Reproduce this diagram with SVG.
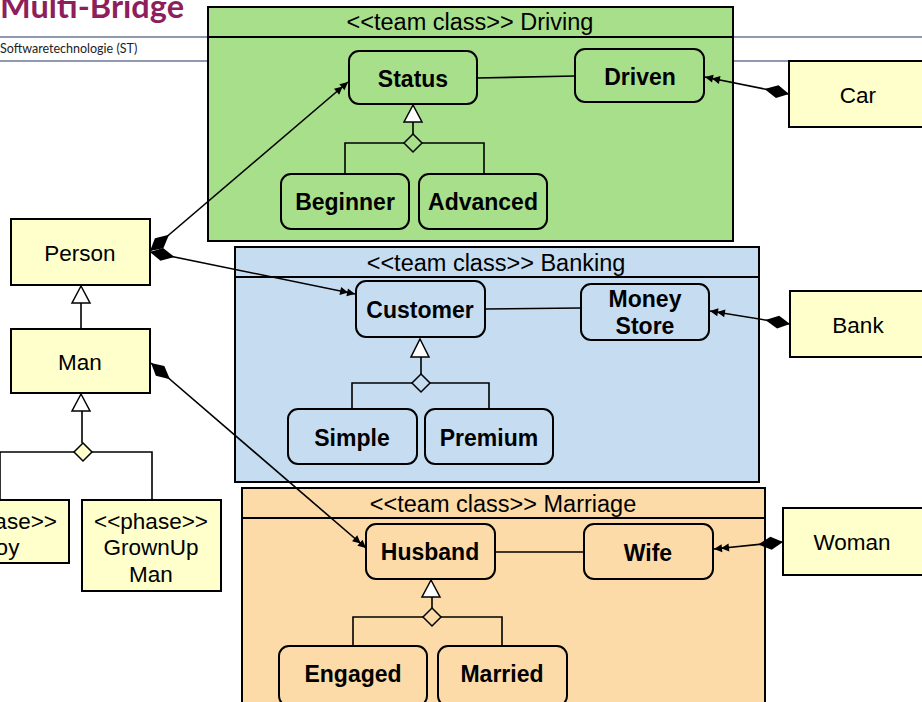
<svg xmlns="http://www.w3.org/2000/svg" width="922" height="702" viewBox="0 0 922 702">
<style>
.hdr{stroke:#6a7896;stroke-width:1.5}
.pkg{stroke:#000;stroke-width:2}
.drv{fill:#a8df8a}
.bnk{fill:#c6ddf1}
.mar{fill:#fddba8}
.cls{fill:#ffffcc;stroke:#000;stroke-width:2}
.t{font-family:"Liberation Sans",Arial,sans-serif;font-size:22.5px;fill:#000;text-anchor:middle}
.ttl{font-size:23.5px}
.b{font-weight:bold;font-size:23px}
.ln{stroke:#000;stroke-width:1.6;fill:none}
.gen{fill:#fff;stroke:#000;stroke-width:1.5}
.gd{stroke:#000;stroke-width:1.5}
</style>
<defs>
<marker id="dbl" markerUnits="userSpaceOnUse" viewBox="0 0 20 12" markerWidth="20" markerHeight="12" refX="17" refY="6" orient="auto" overflow="visible">
<path d="M17,6 L9,2 L9,10 Z M10,6 L2,2 L2,10 Z" fill="#000"/>
</marker>
<marker id="dia" markerUnits="userSpaceOnUse" viewBox="0 0 26 14" markerWidth="26" markerHeight="14" refX="0" refY="7" orient="auto" overflow="visible">
<path d="M0,7 L12,0.5 L25,7 L12,13.5 Z" fill="#000"/>
</marker>
</defs>
<rect width="922" height="702" fill="#fff"/>
<g id="header">
<text x="0" y="18" font-family="Lato,'Open Sans',sans-serif" font-weight="bold" font-size="32.5" fill="#8e1f5c">Multi-Bridge</text>
<line class="hdr" x1="0" y1="37" x2="922" y2="37"/>
<line class="hdr" x1="0" y1="61" x2="922" y2="61"/>
<text x="0" y="53" font-family="Lato,'Open Sans',sans-serif" font-size="12.5" fill="#222">Softwaretechnologie (ST)</text>
</g>
<g id="Driving">
<rect class="pkg drv" x="208" y="7" width="525" height="234"/>
<line class="pkg" x1="208" y1="37" x2="733" y2="37"/>
<text class="t ttl" x="470" y="30">&lt;&lt;team class&gt;&gt; Driving</text>
</g>
<g id="Banking">
<rect class="pkg bnk" x="235" y="247" width="524" height="235"/>
<line class="pkg" x1="235" y1="277" x2="759" y2="277"/>
<text class="t ttl" x="496" y="271">&lt;&lt;team class&gt;&gt; Banking</text>
</g>
<g id="Marriage">
<rect class="pkg mar" x="242" y="488" width="523" height="220"/>
<line class="pkg" x1="242" y1="518" x2="765" y2="518"/>
<text class="t ttl" x="503" y="512">&lt;&lt;team class&gt;&gt; Marriage</text>
</g>
<g id="Status"><rect class="pkg drv" x="349" y="51" width="128" height="53" rx="10"/><text class="t b" x="413" y="87">Status</text></g>
<g id="Driven"><rect class="pkg drv" x="575" y="49" width="129" height="53" rx="10"/><text class="t b" x="640" y="85">Driven</text></g>
<g id="Beginner"><rect class="pkg drv" x="281" y="174" width="128" height="55" rx="10"/><text class="t b" x="345" y="210">Beginner</text></g>
<g id="Advanced"><rect class="pkg drv" x="419" y="174" width="128" height="55" rx="10"/><text class="t b" x="483" y="210">Advanced</text></g>
<g id="Customer"><rect class="pkg bnk" x="356" y="281" width="129" height="56" rx="10"/><text class="t b" x="420" y="318">Customer</text></g>
<g id="MoneyStore"><rect class="pkg bnk" x="581" y="284" width="128" height="56" rx="10"/><text class="t b" x="645" y="307">Money</text><text class="t b" x="645" y="334">Store</text></g>
<g id="Simple"><rect class="pkg bnk" x="288" y="409" width="129" height="55" rx="10"/><text class="t b" x="352" y="446">Simple</text></g>
<g id="Premium"><rect class="pkg bnk" x="425" y="409" width="128" height="55" rx="10"/><text class="t b" x="489" y="446">Premium</text></g>
<g id="Husband"><rect class="pkg mar" x="366" y="524" width="129" height="55" rx="10"/><text class="t b" x="430" y="560">Husband</text></g>
<g id="Wife"><rect class="pkg mar" x="584" y="524" width="129" height="55" rx="10"/><text class="t b" x="648" y="561">Wife</text></g>
<g id="Engaged"><rect class="pkg mar" x="279" y="646" width="148" height="60" rx="10"/><text class="t b" x="353" y="682">Engaged</text></g>
<g id="Married"><rect class="pkg mar" x="438" y="646" width="129" height="60" rx="10"/><text class="t b" x="502" y="682">Married</text></g>
<g id="Person"><rect class="cls" x="11" y="219" width="139" height="66"/><text class="t" x="80" y="261">Person</text></g>
<g id="Man"><rect class="cls" x="11" y="329" width="139" height="64"/><text class="t" x="80" y="370">Man</text></g>
<g id="Boy"><rect class="cls" x="-70" y="500" width="139" height="63"/><text class="t" x="0" y="529">&lt;&lt;phase&gt;&gt;</text><text class="t" x="0" y="555">Boy</text></g>
<g id="GrownUpMan"><rect class="cls" x="82" y="500" width="139" height="91"/><text class="t" x="151" y="529">&lt;&lt;phase&gt;&gt;</text><text class="t" x="151" y="555">GrownUp</text><text class="t" x="151" y="582">Man</text></g>
<g id="Car"><rect class="cls" x="789" y="61" width="140" height="66"/><text class="t" x="858" y="103">Car</text></g>
<g id="Bank"><rect class="cls" x="790" y="291" width="140" height="66"/><text class="t" x="858" y="333">Bank</text></g>
<g id="Woman"><rect class="cls" x="783" y="508" width="145" height="67"/><text class="t" x="852" y="550">Woman</text></g>
<g id="connectors">
<line class="ln" x1="477" y1="78" x2="575" y2="76"/>
<line class="ln" x1="485" y1="309" x2="581" y2="308"/>
<line class="ln" x1="495" y1="552" x2="584" y2="552"/>
<path class="ln" d="M345,174 V143 H484 V174 M413,134 V122"/>
<polygon class="gd" fill="#a8df8a" points="413,134 422,143 413,152 404,143"/>
<polygon class="gen" points="413,105 422,122 404,122"/>
<path class="ln" d="M352,409 V383 H489 V409 M421,374 V357"/>
<polygon class="gd" fill="#c6ddf1" points="421,374 430,383 421,392 412,383"/>
<polygon class="gen" points="420,339 429,357 411,357"/>
<path class="ln" d="M353,646 V617 H502 V646 M432,608 V597"/>
<polygon class="gd" fill="#fddba8" points="432,608 441,617 432,626 423,617"/>
<polygon class="gen" points="431,580 440,597 422,597"/>
<path class="ln" d="M81,303 V329"/>
<polygon class="gen" points="81,286 90,303 72,303"/>
<path class="ln" d="M0,500 V452 H152 V500 M82,443 V411"/>
<polygon class="gd" fill="#ffffcc" points="83,443 92,452 83,461 74,452"/>
<polygon class="gen" points="81,394 90,411 72,411"/>
<line class="ln" x1="150" y1="251" x2="348" y2="82" marker-start="url(#dia)" marker-end="url(#dbl)"/>
<line class="ln" x1="150" y1="252" x2="355" y2="294" marker-start="url(#dia)" marker-end="url(#dbl)"/>
<line class="ln" x1="151" y1="363" x2="366" y2="548" marker-start="url(#dia)" marker-end="url(#dbl)"/>
<line class="ln" x1="789" y1="94" x2="705" y2="77" marker-start="url(#dia)" marker-end="url(#dbl)"/>
<line class="ln" x1="790" y1="324" x2="710" y2="311" marker-start="url(#dia)" marker-end="url(#dbl)"/>
<line class="ln" x1="783" y1="542" x2="714" y2="549" marker-start="url(#dia)" marker-end="url(#dbl)"/>
</g>
</svg>
